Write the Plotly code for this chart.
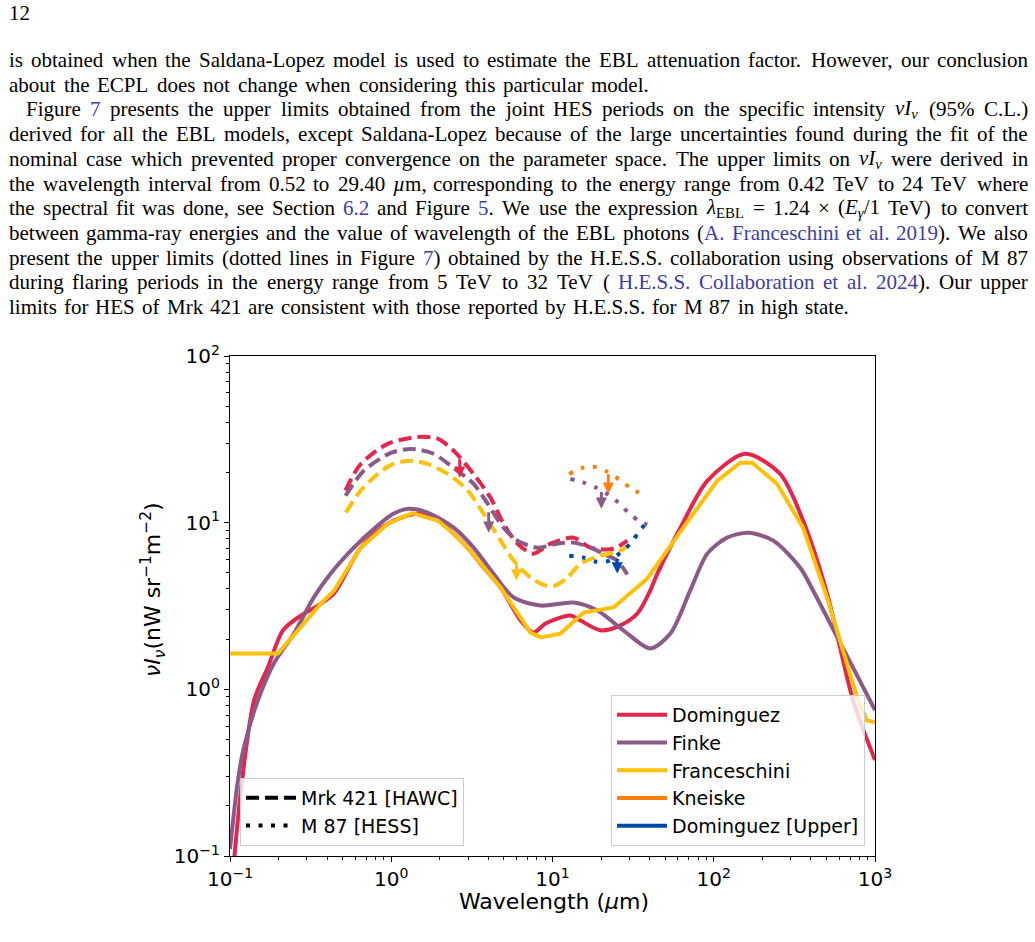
import re
import numpy as np
import plotly.graph_objects as go

# ---------------- data ----------------
dom_lam = [0.105, 0.117, 0.141, 0.172, 0.213, 0.275, 0.351, 0.441, 0.647, 0.951, 1.46, 1.94, 2.44, 2.97,
           3.74, 4.77, 6.34, 7.62, 9.05, 12.9, 14.9, 19.8, 26.4, 33.6, 40.4, 44.7, 62.1, 91.2, 157, 258,
           358, 504, 731, 1000]
dom_val = [0.085, 0.248, 0.86, 1.36, 2.26, 2.77, 3.18, 3.76, 7.08, 9.86, 11.3, 10.3, 8.59, 7.08,
           5.38, 4.08, 2.59, 2.19, 2.48, 2.77, 2.59, 2.26, 2.42, 2.85, 3.92, 4.95, 9.33, 17.8, 25.9, 19.6,
           10.3, 3.76, 0.86, 0.376]

fin_lam = [0.100, 0.112, 0.122, 0.149, 0.187, 0.249, 0.331, 0.421, 0.586, 0.824, 1.03, 1.28, 1.68, 2.44,
           3.24, 4.3, 5.74, 8.43, 13.5, 19.0, 27.5, 40.4, 53.8, 71.5, 91.2, 121, 164, 234, 343, 413, 600, 1000]
fin_val = [0.11, 0.285, 0.45, 0.86, 1.43, 2.16, 3.56, 4.95, 7.08, 9.6, 11.3, 12.1, 11.5, 9.33,
           7.08, 4.95, 3.56, 3.18, 3.32, 2.97, 2.26, 1.76, 2.16, 3.92, 6.52, 8.13, 8.71, 7.80, 5.38, 3.92, 1.95, 0.75]

fra_lam = [0.100, 0.198, 0.264, 0.366, 0.441, 0.647, 0.951, 1.35, 1.94, 2.44, 2.97, 3.74, 4.77, 7.3,
           8.43, 11.2, 15.6, 23.9, 31.8, 38.7, 64.7, 105, 146, 173, 247, 358, 504, 774, 892, 1000]
fra_val = [1.64, 1.64, 2.26, 3.27, 3.9, 7.08, 9.86, 11.4, 10.3, 8.59, 7.08, 5.38, 4.08, 2.19,
           2.05, 2.16, 2.89, 3.10, 3.92, 4.62, 9.33, 17.8, 22.9, 22.9, 17.1, 9.33, 3.56, 0.895, 0.65, 0.634]

# Mrk 421 [HAWC] upper limits (dashed)
hawc_dom_lam = [0.52, 0.647, 0.951, 1.46, 1.94, 2.44, 3.24, 4.13, 4.97, 6.07, 7.62, 9.73, 13.5, 17.2, 23.9, 29.1]
hawc_dom_val = [15.6, 22.5, 29.7, 32.7, 31.9, 27.0, 19.6, 14.1, 9.86, 7.48, 6.52, 7.48, 8.13, 7.08, 6.98, 7.80]
hawc_fin_lam = [0.52, 0.676, 0.993, 1.32, 1.83, 2.44, 3.24, 3.96, 4.97, 6.07, 8.07, 10.7, 13.5, 17.2, 21.3, 25.2, 29.1]
hawc_fin_val = [14.5, 20.5, 26.2, 27.7, 25.9, 21.3, 17.1, 13.0, 9.33, 7.80, 7.08, 7.48, 7.59, 7.08, 6.43, 5.92, 4.89]
hawc_fra_lam = [0.523, 0.647, 0.824, 1.03, 1.32, 1.68, 2.24, 2.98, 3.74, 4.77, 5.74, 7.31, 9.05, 10.4, 12.4, 14.9, 19.8, 26.4, 29.1]
hawc_fra_val = [11.5, 15.6, 19.6, 22.5, 23.5, 22.5, 19.6, 15.6, 11.3, 7.80, 5.92, 4.69, 4.20, 4.20, 4.69, 5.68, 6.34, 6.79, 7.28]

# M 87 [HESS] upper limits (dotted)
hess_kne_lam = [12.7, 15.3, 18.5, 21.9, 26.0, 30.4, 36.1]
hess_kne_val = [19.6, 21.3, 21.6, 20.2, 18.1, 16.2, 14.7]
hess_fin_lam = [12.9, 15.6, 18.7, 22.2, 25.6, 29.6, 34.1, 38.7]
hess_fin_val = [18.3, 17.4, 16.2, 14.7, 13.2, 11.5, 10.3, 9.73]
hess_domu_lam = [12.7, 15.6, 18.7, 22.5, 26.4, 30.4, 34.1, 38.2]
hess_domu_val = [6.34, 6.17, 5.83, 5.92, 6.61, 7.48, 8.71, 10.0]

# downward arrows (upper-limit markers): wavelength, tail value, head value
arrow_lam = [2.66, 4.02, 5.98, 22.2, 20.1, 25.2]
arrow_top = [24.5, 11.8, 5.75, 19.9, 15.6, 6.17]
arrow_bot = [18.6, 8.71, 4.50, 14.9, 12.1, 4.95]
arrow_key = ["dom", "fin", "fra", "kne", "fin", "domu"]

x_ticks = [0.1, 1, 10, 100, 1000]
x_ticktext = ["10<sup>−1</sup>", "10<sup>0</sup>", "10<sup>1</sup>", "10<sup>2</sup>", "10<sup>3</sup>"]
y_ticks = [0.1, 1, 10, 100]
y_ticktext = ["10<sup>−1</sup>", "10<sup>0</sup>", "10<sup>1</sup>", "10<sup>2</sup>"]

COL = {"dom": "#e3264c", "fin": "#8c5a88", "fra": "#ffc107", "kne": "#ff7f0e", "domu": "#0047ab"}
LINK = "#3d3da8"

# ---------------- page geometry ----------------
W, H = 1035, 942
L, R, T, B = 230, 875, 356, 856
PW, PH = R - L, B - T


def px(xp):
    return (xp - L) / PW


def py(yp):
    return (B - yp) / PH


fig = go.Figure()

SOLID_W = 4
DASH = "13px,6px"
DOT = "4px,8.5px"

fig.add_trace(go.Scatter(x=dom_lam, y=dom_val, mode="lines", name="Dominguez", legend="legend",
                         line=dict(color=COL["dom"], width=SOLID_W, shape="spline", smoothing=0.8)))
fig.add_trace(go.Scatter(x=fin_lam, y=fin_val, mode="lines", name="Finke", legend="legend",
                         line=dict(color=COL["fin"], width=SOLID_W, shape="spline", smoothing=0.8)))
fig.add_trace(go.Scatter(x=fra_lam, y=fra_val, mode="lines", name="Franceschini", legend="legend",
                         line=dict(color=COL["fra"], width=SOLID_W)))
fig.add_trace(go.Scatter(x=[None], y=[None], mode="lines", name="Kneiske", legend="legend",
                         line=dict(color=COL["kne"], width=SOLID_W)))
fig.add_trace(go.Scatter(x=[None], y=[None], mode="lines", name="Dominguez [Upper]", legend="legend",
                         line=dict(color=COL["domu"], width=SOLID_W)))

for lam, val, key in [(hawc_dom_lam, hawc_dom_val, "dom"), (hawc_fin_lam, hawc_fin_val, "fin"),
                      (hawc_fra_lam, hawc_fra_val, "fra")]:
    fig.add_trace(go.Scatter(x=lam, y=val, mode="lines", showlegend=False,
                             line=dict(color=COL[key], width=SOLID_W, dash=DASH, shape="spline", smoothing=0.8)))
for lam, val, key in [(hess_kne_lam, hess_kne_val, "kne"), (hess_fin_lam, hess_fin_val, "fin"),
                      (hess_domu_lam, hess_domu_val, "domu")]:
    fig.add_trace(go.Scatter(x=lam, y=val, mode="lines", showlegend=False,
                             line=dict(color=COL[key], width=SOLID_W, dash=DOT, shape="spline", smoothing=0.8)))

fig.add_trace(go.Scatter(x=[None], y=[None], mode="lines", name="Mrk 421 [HAWC]", legend="legend2",
                         line=dict(color="black", width=SOLID_W, dash=DASH)))
fig.add_trace(go.Scatter(x=[None], y=[None], mode="lines", name="M 87 [HESS]", legend="legend2",
                         line=dict(color="black", width=SOLID_W, dash=DOT)))

annotations = []
for lam, top, bot, key in zip(arrow_lam, arrow_top, arrow_bot, arrow_key):
    annotations.append(dict(x=np.log10(lam), y=np.log10(bot), ax=np.log10(lam), ay=np.log10(top),
                            xref="x", yref="y", axref="x", ayref="y", text="", showarrow=True,
                            arrowhead=2, arrowsize=0.75, arrowwidth=3, arrowcolor=COL[key]))

# axis titles
annotations.append(dict(text="Wavelength (<i>µ</i>m)", x=px(554), y=py(901), xref="paper", yref="paper",
                        showarrow=False, xanchor="center", yanchor="middle",
                        font=dict(family="DejaVu Sans", size=22, color="black")))
annotations.append(dict(text="<i>νI</i><sub><i>ν</i></sub>(nW sr<sup>−1</sup>m<sup>−2</sup>)",
                        x=px(153), y=py(590), xref="paper", yref="paper", textangle=-90,
                        showarrow=False, xanchor="center", yanchor="middle",
                        font=dict(family="DejaVu Sans", size=22, color="black")))

# ---------------- page text (justified, word by word) ----------------
TIMES = dict(zip("abcdefghijklmnopqrstuvwxyz",
                 [444, 500, 444, 500, 444, 333, 500, 500, 278, 278, 500, 278, 778, 500, 500, 500, 500, 333,
                  389, 278, 500, 500, 722, 500, 500, 444]))
TIMES.update(dict(zip("ABCDEFGHIJKLMNOPQRSTUVWXYZ",
                      [722, 667, 667, 722, 611, 556, 722, 722, 333, 389, 722, 611, 889, 722, 722, 556, 722,
                       667, 556, 611, 722, 722, 944, 722, 722, 611])))
TIMES.update({c: 500 for c in "0123456789"})
TIMES.update({" ": 250, ".": 250, ",": 250, "(": 333, ")": 333, "-": 333, "%": 833, "/": 278,
              "=": 564, "×": 564, "µ": 500, "ν": 480, "λ": 550, "γ": 450})


def width(html, size):
    w, sc = 0.0, 1.0
    for part in re.split(r"(<[^>]+>)", html):
        if part.startswith("<"):
            if re.match(r"</\s*(sub|sup)", part):
                sc = 1.0
            elif re.match(r"<\s*(sub|sup)", part):
                sc = 0.7
            continue
        for ch in part:
            w += TIMES.get(ch, 500) / 1000.0 * size * sc
    return w


def b(s):
    return '<span style="color:%s">%s</span>' % (LINK, s)


nuI = "<i>νI</i><sub><i>ν</i></sub>"
lines = [
    "is obtained when the Saldana-Lopez model is used to estimate the EBL attenuation factor. However, our conclusion".split(),
    "about the ECPL does not change when considering this particular model.".split(),
    ["Figure", b("7")] + "presents the upper limits obtained from the joint HES periods on the specific intensity".split()
    + [nuI, "(95%", "C.L.)"],
    "derived for all the EBL models, except Saldana-Lopez because of the large uncertainties found during the fit of the".split(),
    "nominal case which prevented proper convergence on the parameter space. The upper limits on".split()
    + [nuI, "were", "derived", "in"],
    "the wavelength interval from 0.52 to 29.40".split() + ["<i>µ</i>m,"]
    + "corresponding to the energy range from 0.42 TeV to 24 TeV where".split(),
    "the spectral fit was done, see Section".split() + [b("6.2"), "and", "Figure", b("5") + ".", "We", "use", "the",
                                                        "expression", "<i>λ</i><sub>EBL</sub>", "=", "1.24", "×",
                                                        "(<i>E</i><sub><i>γ</i></sub>/1", "TeV)", "to", "convert"],
    "between gamma-ray energies and the value of wavelength of the EBL photons".split()
    + ["(" + b("A."), b("Franceschini"), b("et"), b("al."), b("2019") + ").", "We", "also"],
    "present the upper limits (dotted lines in Figure".split() + [b("7") + ")"]
    + "obtained by the H.E.S.S. collaboration using observations of M 87".split(),
    "during flaring periods in the energy range from 5 TeV to 32 TeV (".split()
    + [b("H.E.S.S."), b("Collaboration"), b("et"), b("al."), b("2024") + ").", "Our", "upper"],
    "limits for HES of Mrk 421 are consistent with those reported by H.E.S.S. for M 87 in high state.".split(),
]
line_x0 = [8, 8, 25, 8, 8, 8, 8, 8, 8, 8, 8]
line_x1 = [1027, 648, 1027, 1027, 1027, 1027, 1027, 1027, 1027, 1027, 848]
line_y = [60 + 24.7 * i for i in range(len(lines))]

for toks, x0, x1, yc in zip(lines, line_x0, line_x1, line_y):
    size = 21
    while True:
        ws = [width(t, size) for t in toks]
        gap = (x1 - x0 - sum(ws)) / (len(toks) - 1)
        if gap >= 4.5 or size <= 17:
            break
        size -= 0.5
    xp = x0
    for t, w in zip(toks, ws):
        annotations.append(dict(text=t, x=px(xp - 1), y=py(yc), xref="paper", yref="paper", showarrow=False,
                                xanchor="left", yanchor="middle",
                                font=dict(family="Liberation Serif", size=size, color="black")))
        xp += w + gap

annotations.append(dict(text="12", x=px(7), y=py(13), xref="paper", yref="paper", showarrow=False,
                        xanchor="left", yanchor="middle",
                        font=dict(family="Liberation Serif", size=21, color="black")))

minor_x = [m * d for d in [0.1, 1, 10, 100] for m in range(2, 10)]
minor_y = [m * d for d in [0.1, 1, 10] for m in range(2, 10)]

axis_common = dict(type="log", showgrid=False, zeroline=False, showline=True, linecolor="black", linewidth=1.1,
                   mirror=True, ticks="outside", ticklen=5, tickwidth=1.1, tickcolor="black",
                   tickfont=dict(family="DejaVu Sans", size=20, color="black"))

fig.update_layout(
    width=W, height=H,
    margin=dict(l=L, r=W - R, t=T, b=H - B, pad=0),
    paper_bgcolor="white", plot_bgcolor="white",
    xaxis=dict(range=[-1, 3], tickmode="array", tickvals=x_ticks, ticktext=x_ticktext,
               minor=dict(tickmode="array", tickvals=minor_x, ticks="outside", ticklen=3, tickwidth=0.9,
                          tickcolor="black", showgrid=False),
               **axis_common),
    yaxis=dict(range=[-1, 2], tickmode="array", tickvals=y_ticks, ticktext=y_ticktext,
               minor=dict(tickmode="array", tickvals=minor_y, ticks="outside", ticklen=3, tickwidth=0.9,
                          tickcolor="black", showgrid=False),
               **axis_common),
    legend=dict(x=px(865), xanchor="right", y=py(846), yanchor="bottom", bgcolor="rgba(255,255,255,0.8)",
                bordercolor="#cccccc", borderwidth=1, font=dict(family="DejaVu Sans", size=19, color="black"),
                traceorder="normal", itemwidth=50),
    legend2=dict(x=px(240), xanchor="left", y=py(846), yanchor="bottom", bgcolor="rgba(255,255,255,0.8)",
                 bordercolor="#cccccc", borderwidth=1, font=dict(family="DejaVu Sans", size=19, color="black"),
                 traceorder="normal", itemwidth=50),
    annotations=annotations,
    showlegend=True,
)

fig.write_html("out.html")
